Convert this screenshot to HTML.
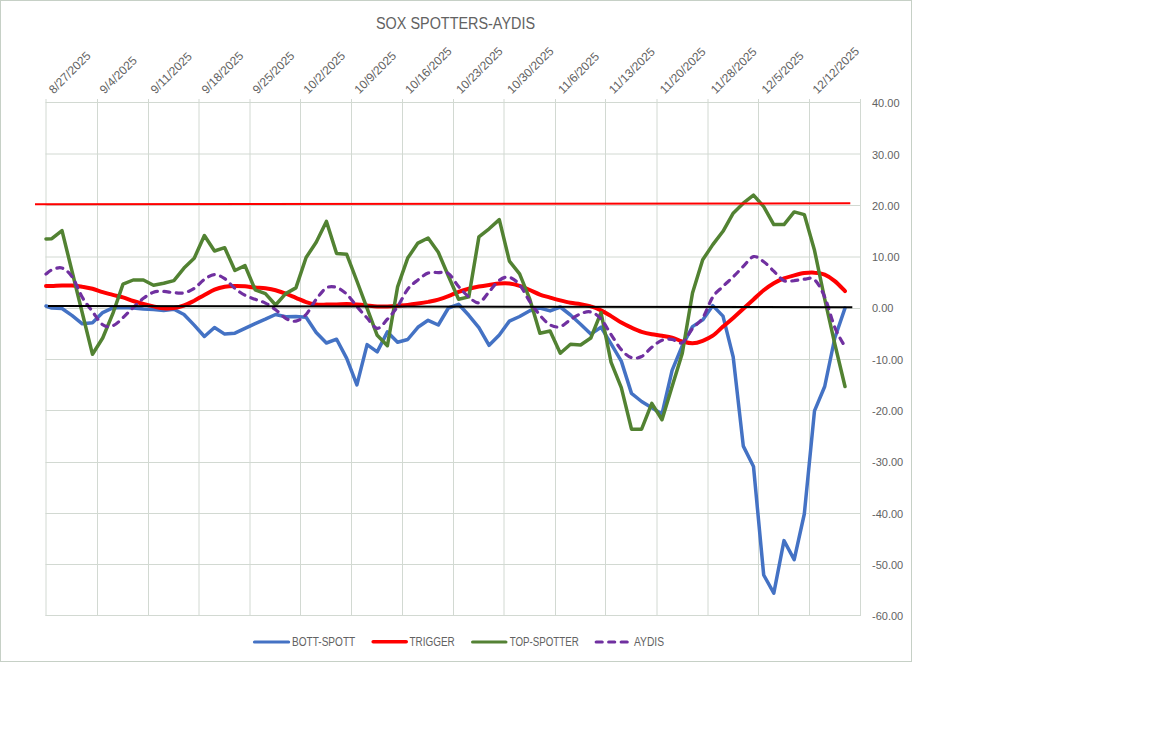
<!DOCTYPE html>
<html><head><meta charset="utf-8"><style>
html,body{margin:0;padding:0;background:#fff;}
svg{display:block;}
text{font-family:"Liberation Sans",sans-serif;fill:#626262;}
</style></head><body>
<svg width="1152" height="737" viewBox="0 0 1152 737">
<rect x="0" y="0" width="1152" height="737" fill="#fff"/>
<rect x="0.5" y="0.5" width="911" height="661" fill="none" stroke="#c6d0c6" stroke-width="1"/>
<text x="376" y="28.6" font-size="16.3" textLength="159" lengthAdjust="spacingAndGlyphs">SOX SPOTTERS-AYDIS</text>
<g stroke="#d2d9d2" stroke-width="1" fill="none">
<line x1="45.5" y1="102.5" x2="861" y2="102.5"/>
<line x1="45.5" y1="154.0" x2="861" y2="154.0"/>
<line x1="45.5" y1="205.5" x2="861" y2="205.5"/>
<line x1="45.5" y1="257.0" x2="861" y2="257.0"/>
<line x1="45.5" y1="308.5" x2="861" y2="308.5"/>
<line x1="45.5" y1="359.5" x2="861" y2="359.5"/>
<line x1="45.5" y1="410.5" x2="861" y2="410.5"/>
<line x1="45.5" y1="462.5" x2="861" y2="462.5"/>
<line x1="45.5" y1="513.5" x2="861" y2="513.5"/>
<line x1="45.5" y1="564.5" x2="861" y2="564.5"/>
<line x1="45.5" y1="615.5" x2="861" y2="615.5"/>
<line x1="46.0" y1="99" x2="46.0" y2="616"/>
<line x1="97.5" y1="99" x2="97.5" y2="616"/>
<line x1="148.5" y1="99" x2="148.5" y2="616"/>
<line x1="199.0" y1="99" x2="199.0" y2="616"/>
<line x1="250.0" y1="99" x2="250.0" y2="616"/>
<line x1="300.5" y1="99" x2="300.5" y2="616"/>
<line x1="351.5" y1="99" x2="351.5" y2="616"/>
<line x1="402.5" y1="99" x2="402.5" y2="616"/>
<line x1="453.5" y1="99" x2="453.5" y2="616"/>
<line x1="504.0" y1="99" x2="504.0" y2="616"/>
<line x1="555.5" y1="99" x2="555.5" y2="616"/>
<line x1="605.5" y1="99" x2="605.5" y2="616"/>
<line x1="657.0" y1="99" x2="657.0" y2="616"/>
<line x1="708.0" y1="99" x2="708.0" y2="616"/>
<line x1="758.5" y1="99" x2="758.5" y2="616"/>
<line x1="809.5" y1="99" x2="809.5" y2="616"/>
<line x1="860.5" y1="99" x2="860.5" y2="616"/>
</g>
<g font-size="11">
<text x="872" y="107.2">40.00</text>
<text x="872" y="158.5">30.00</text>
<text x="872" y="209.8">20.00</text>
<text x="872" y="261.1">10.00</text>
<text x="872" y="312.4">0.00</text>
<text x="872" y="363.7">-10.00</text>
<text x="872" y="415.0">-20.00</text>
<text x="872" y="466.3">-30.00</text>
<text x="872" y="517.6">-40.00</text>
<text x="872" y="568.9">-50.00</text>
<text x="872" y="620.2">-60.00</text>
</g>
<g font-size="12">
<text transform="translate(53.7,94.4) rotate(-45)">8/27/2025</text>
<text transform="translate(104.6,94.4) rotate(-45)">9/4/2025</text>
<text transform="translate(155.5,94.4) rotate(-45)">9/11/2025</text>
<text transform="translate(206.5,94.4) rotate(-45)">9/18/2025</text>
<text transform="translate(257.4,94.4) rotate(-45)">9/25/2025</text>
<text transform="translate(308.3,94.4) rotate(-45)">10/2/2025</text>
<text transform="translate(359.2,94.4) rotate(-45)">10/9/2025</text>
<text transform="translate(410.1,94.4) rotate(-45)">10/16/2025</text>
<text transform="translate(461.1,94.4) rotate(-45)">10/23/2025</text>
<text transform="translate(512.0,94.4) rotate(-45)">10/30/2025</text>
<text transform="translate(562.9,94.4) rotate(-45)">11/6/2025</text>
<text transform="translate(613.8,94.4) rotate(-45)">11/13/2025</text>
<text transform="translate(664.7,94.4) rotate(-45)">11/20/2025</text>
<text transform="translate(715.7,94.4) rotate(-45)">11/28/2025</text>
<text transform="translate(766.6,94.4) rotate(-45)">12/5/2025</text>
<text transform="translate(817.5,94.4) rotate(-45)">12/12/2025</text>
</g>
<g fill="none" stroke-linejoin="round" stroke-linecap="round">
<polyline points="46.0,306.0 51.8,308.0 62.0,308.5 72.2,315.6 82.3,323.8 92.5,322.8 102.7,312.6 112.8,307.9 123.0,307.5 133.2,308.0 143.4,309.0 153.5,309.6 163.7,310.4 173.9,309.3 184.0,314.5 194.2,325.1 204.4,336.5 214.5,327.5 224.7,334.1 234.9,333.2 245.0,328.4 255.2,323.6 265.4,319.2 275.6,314.5 285.7,316.8 295.9,316.4 306.1,317.3 316.2,332.5 326.4,343.0 336.6,339.2 346.7,358.4 356.9,384.9 367.1,344.6 377.2,351.9 387.4,331.9 397.6,342.3 407.7,339.5 417.9,327.3 428.1,320.3 438.3,325.0 448.4,308.0 458.6,304.3 468.8,315.3 478.9,327.6 489.1,345.3 499.3,335.0 509.4,321.1 519.6,316.5 529.8,310.7 539.9,308.0 550.1,310.9 560.3,307.0 570.5,315.0 580.6,324.2 590.8,334.1 601.0,327.2 611.1,343.8 621.3,361.1 631.5,393.4 641.6,401.5 651.8,407.8 662.0,414.0 672.1,370.3 682.3,345.6 692.5,326.6 702.7,319.9 712.8,305.6 723.0,316.1 733.2,357.0 743.3,446.1 753.5,466.5 763.7,575.0 773.8,593.2 784.0,540.6 794.2,559.6 804.3,514.0 814.5,410.9 824.7,386.5 834.8,338.0 845.0,308.1" stroke="#4472c4" stroke-width="3.5"/>
<path d="M46.0,286.0 C47.0,286.0 49.2,286.2 51.8,286.1 C54.5,286.0 58.6,285.6 62.0,285.5 C65.4,285.4 68.8,285.3 72.2,285.5 C75.6,285.7 79.0,286.1 82.3,286.7 C85.7,287.2 89.1,287.9 92.5,288.8 C95.9,289.7 99.3,291.2 102.7,292.2 C106.1,293.2 109.5,294.0 112.8,294.9 C116.2,295.8 119.6,296.3 123.0,297.3 C126.4,298.3 129.8,299.9 133.2,301.0 C136.6,302.1 140.0,303.1 143.4,304.0 C146.7,304.9 150.1,305.7 153.5,306.4 C156.9,307.1 160.3,308.0 163.7,308.3 C167.1,308.6 170.5,308.5 173.9,308.0 C177.3,307.5 180.6,306.7 184.0,305.5 C187.4,304.3 190.8,302.4 194.2,300.7 C197.6,298.9 201.0,296.8 204.4,295.0 C207.8,293.2 211.1,291.1 214.5,289.7 C217.9,288.3 221.3,287.4 224.7,286.8 C228.1,286.2 231.5,286.1 234.9,286.0 C238.3,285.9 241.7,286.1 245.0,286.3 C248.4,286.6 251.8,287.2 255.2,287.5 C258.6,287.8 262.0,287.9 265.4,288.3 C268.8,288.8 272.2,289.3 275.6,290.2 C278.9,291.1 282.3,292.3 285.7,293.6 C289.1,294.9 292.5,296.4 295.9,297.8 C299.3,299.2 302.7,301.0 306.1,302.1 C309.4,303.2 312.8,304.0 316.2,304.4 C319.6,304.8 323.0,304.6 326.4,304.6 C329.8,304.6 333.2,304.5 336.6,304.4 C340.0,304.3 343.3,304.0 346.7,304.0 C350.1,304.0 353.5,304.2 356.9,304.4 C360.3,304.6 363.7,305.0 367.1,305.4 C370.5,305.8 373.9,306.3 377.2,306.5 C380.6,306.7 384.0,306.6 387.4,306.5 C390.8,306.4 394.2,306.1 397.6,305.8 C401.0,305.5 404.4,305.3 407.7,304.9 C411.1,304.5 414.5,304.0 417.9,303.5 C421.3,303.0 424.7,302.5 428.1,301.9 C431.5,301.2 434.9,300.6 438.3,299.6 C441.6,298.6 445.0,297.4 448.4,296.1 C451.8,294.8 455.2,293.0 458.6,291.8 C462.0,290.6 465.4,289.7 468.8,288.8 C472.2,287.9 475.5,287.1 478.9,286.5 C482.3,285.9 485.7,285.4 489.1,284.9 C492.5,284.4 495.9,283.7 499.3,283.5 C502.7,283.3 506.0,283.1 509.4,283.5 C512.8,283.9 516.2,284.7 519.6,285.8 C523.0,286.9 526.4,288.5 529.8,290.0 C533.2,291.5 536.6,293.3 539.9,294.6 C543.3,295.9 546.7,296.6 550.1,297.6 C553.5,298.6 556.9,299.5 560.3,300.4 C563.7,301.3 567.1,302.2 570.5,302.8 C573.8,303.4 577.2,303.5 580.6,304.1 C584.0,304.7 587.4,305.3 590.8,306.4 C594.2,307.4 597.6,308.8 601.0,310.4 C604.4,312.0 607.7,314.1 611.1,316.1 C614.5,318.1 617.9,320.7 621.3,322.6 C624.7,324.5 628.1,326.2 631.5,327.7 C634.9,329.2 638.2,330.7 641.6,331.8 C645.0,332.9 648.4,333.6 651.8,334.2 C655.2,334.8 658.6,335.1 662.0,335.7 C665.4,336.3 668.8,336.7 672.1,337.6 C675.5,338.6 678.9,340.4 682.3,341.4 C685.7,342.3 689.1,343.4 692.5,343.3 C695.9,343.2 699.3,342.1 702.7,340.8 C706.0,339.5 709.4,338.1 712.8,335.7 C716.2,333.3 719.6,329.6 723.0,326.6 C726.4,323.7 729.8,321.0 733.2,318.0 C736.5,315.0 739.9,311.9 743.3,308.8 C746.7,305.7 750.1,302.6 753.5,299.5 C756.9,296.4 760.3,292.9 763.7,290.2 C767.1,287.5 770.4,285.2 773.8,283.2 C777.2,281.2 780.6,279.7 784.0,278.4 C787.4,277.1 790.8,276.3 794.2,275.4 C797.6,274.5 801.0,273.6 804.3,273.1 C807.7,272.7 811.1,272.4 814.5,272.7 C817.9,272.9 821.3,273.2 824.7,274.6 C828.1,276.0 831.5,278.4 834.8,281.1 C838.2,283.9 843.3,289.4 845.0,291.1" stroke="#ff0000" stroke-width="4"/>
<polyline points="46.0,238.9 51.8,238.7 62.0,230.6 72.2,272.0 82.3,313.0 92.5,354.3 102.7,338.0 112.8,313.7 123.0,284.1 133.2,280.0 143.4,280.0 153.5,285.2 163.7,283.2 173.9,280.6 184.0,268.1 194.2,258.3 204.4,235.5 214.5,251.0 224.7,247.7 234.9,270.5 245.0,265.6 255.2,289.8 265.4,293.6 275.6,305.0 285.7,293.6 295.9,287.9 306.1,257.5 316.2,242.3 326.4,221.4 336.6,253.5 346.7,254.3 356.9,281.0 367.1,308.4 377.2,335.3 387.4,345.7 397.6,286.9 407.7,258.1 417.9,243.1 428.1,238.0 438.3,252.3 448.4,276.0 458.6,299.2 468.8,296.9 478.9,236.9 489.1,228.8 499.3,219.6 509.4,261.1 519.6,273.8 529.8,299.2 539.9,333.3 550.1,331.0 560.3,353.2 570.5,344.3 580.6,345.0 590.8,338.0 601.0,312.7 611.1,362.3 621.3,387.6 631.5,429.2 641.6,429.2 651.8,403.4 662.0,419.7 672.1,386.4 682.3,353.2 692.5,293.0 702.7,259.8 712.8,244.6 723.0,231.3 733.2,213.2 743.3,203.2 753.5,195.2 763.7,206.6 773.8,224.6 784.0,224.6 794.2,211.9 804.3,214.6 814.5,250.3 824.7,299.0 834.8,343.8 845.0,386.5" stroke="#528232" stroke-width="3.5"/>
<path d="M46.0,274.0 C47.0,273.3 49.2,271.0 51.8,270.0 C54.5,269.0 58.6,266.8 62.0,268.0 C65.4,269.2 68.8,272.1 72.2,277.0 C75.6,281.9 79.0,291.5 82.3,297.3 C85.7,303.1 89.1,307.0 92.5,311.6 C95.9,316.2 99.3,322.4 102.7,324.8 C106.1,327.2 109.5,327.0 112.8,325.8 C116.2,324.6 119.6,320.8 123.0,317.7 C126.4,314.6 129.8,310.7 133.2,307.5 C136.6,304.3 140.0,300.9 143.4,298.3 C146.7,295.8 150.1,293.4 153.5,292.2 C156.9,291.0 160.3,291.3 163.7,291.4 C167.1,291.5 170.5,292.6 173.9,292.8 C177.3,293.0 180.6,293.5 184.0,292.8 C187.4,292.1 190.8,290.6 194.2,288.4 C197.6,286.2 201.0,281.8 204.4,279.5 C207.8,277.2 211.1,274.7 214.5,274.6 C217.9,274.5 221.3,276.4 224.7,278.7 C228.1,281.0 231.5,285.6 234.9,288.4 C238.3,291.2 241.7,293.5 245.0,295.3 C248.4,297.1 251.8,298.0 255.2,299.3 C258.6,300.6 262.0,301.4 265.4,303.1 C268.8,304.8 272.2,307.2 275.6,309.7 C278.9,312.2 282.3,316.4 285.7,318.3 C289.1,320.2 292.5,321.7 295.9,321.1 C299.3,320.5 302.7,318.1 306.1,314.5 C309.4,310.9 312.8,303.7 316.2,299.3 C319.6,294.9 323.0,289.9 326.4,287.9 C329.8,285.9 333.2,286.4 336.6,287.5 C340.0,288.6 343.3,291.0 346.7,294.2 C350.1,297.4 353.5,302.5 356.9,306.5 C360.3,310.5 363.7,314.4 367.1,318.0 C370.5,321.6 373.9,328.2 377.2,328.4 C380.6,328.6 384.0,322.8 387.4,319.2 C390.8,315.6 394.2,311.5 397.6,306.5 C401.0,301.5 404.4,293.6 407.7,289.2 C411.1,284.8 414.5,282.7 417.9,280.0 C421.3,277.3 424.7,274.3 428.1,273.1 C431.5,271.9 434.9,272.5 438.3,272.6 C441.6,272.7 445.0,271.2 448.4,273.5 C451.8,275.8 455.2,282.6 458.6,286.5 C462.0,290.4 465.4,294.2 468.8,296.9 C472.2,299.6 475.5,303.5 478.9,302.7 C482.3,301.9 485.7,295.5 489.1,291.8 C492.5,288.1 495.9,282.7 499.3,280.3 C502.7,277.9 506.0,276.5 509.4,277.3 C512.8,278.1 516.2,280.9 519.6,284.9 C523.0,288.9 526.4,296.4 529.8,301.5 C533.2,306.6 536.6,311.4 539.9,315.3 C543.3,319.2 546.7,322.9 550.1,324.8 C553.5,326.7 556.9,327.6 560.3,326.7 C563.7,325.8 567.1,321.8 570.5,319.6 C573.8,317.5 577.2,315.1 580.6,313.8 C584.0,312.5 587.4,311.1 590.8,312.0 C594.2,312.9 597.6,315.1 601.0,318.9 C604.4,322.7 607.7,329.5 611.1,334.6 C614.5,339.7 617.9,345.8 621.3,349.6 C624.7,353.5 628.1,356.6 631.5,357.7 C634.9,358.8 638.2,358.2 641.6,356.5 C645.0,354.8 648.4,350.0 651.8,347.3 C655.2,344.6 658.6,341.6 662.0,340.3 C665.4,339.0 668.8,338.9 672.1,339.3 C675.5,339.7 678.9,344.5 682.3,342.7 C685.7,340.9 689.1,332.6 692.5,328.5 C695.9,324.4 699.3,323.2 702.7,318.0 C706.0,312.8 709.4,302.3 712.8,297.0 C716.2,291.7 719.6,289.8 723.0,286.4 C726.4,283.0 729.8,280.2 733.2,276.9 C736.5,273.6 739.9,269.8 743.3,266.4 C746.7,263.0 750.1,257.4 753.5,256.6 C756.9,255.8 760.3,259.3 763.7,261.7 C767.1,264.1 770.4,268.0 773.8,271.2 C777.2,274.4 780.6,279.1 784.0,280.7 C787.4,282.3 790.8,280.9 794.2,280.7 C797.6,280.4 801.0,279.4 804.3,279.2 C807.7,279.0 811.1,276.7 814.5,279.7 C817.9,282.7 821.3,289.0 824.7,297.0 C828.1,305.0 831.5,319.2 834.8,327.5 C838.2,335.8 843.3,343.6 845.0,346.8" stroke="#7030a0" stroke-width="3.2" stroke-dasharray="6 6.5"/>
</g>
<line x1="48" y1="306.0" x2="852.3" y2="307.2" stroke="#000" stroke-width="2"/>
<line x1="35" y1="204.2" x2="850.3" y2="203.3" stroke="#ff0000" stroke-width="2"/>
<g fill="none" stroke-linecap="round">
<line x1="254.5" y1="642" x2="288.6" y2="642" stroke="#4472c4" stroke-width="3.2"/>
<line x1="373.2" y1="641.7" x2="406.2" y2="641.7" stroke="#ff0000" stroke-width="3.6"/>
<line x1="472.6" y1="642" x2="505.9" y2="642" stroke="#548235" stroke-width="3.2"/>
<line x1="596.2" y1="642" x2="628.4" y2="642" stroke="#7030a0" stroke-width="3.2" stroke-dasharray="6 6.5"/>
</g>
<g font-size="12">
<text x="292" y="645.9" textLength="63.2" lengthAdjust="spacingAndGlyphs">BOTT-SPOTT</text>
<text x="409.5" y="645.9" textLength="45.2" lengthAdjust="spacingAndGlyphs">TRIGGER</text>
<text x="509.7" y="645.9" textLength="69" lengthAdjust="spacingAndGlyphs">TOP-SPOTTER</text>
<text x="634" y="645.9" textLength="30" lengthAdjust="spacingAndGlyphs">AYDIS</text>
</g>
</svg>
</body></html>
